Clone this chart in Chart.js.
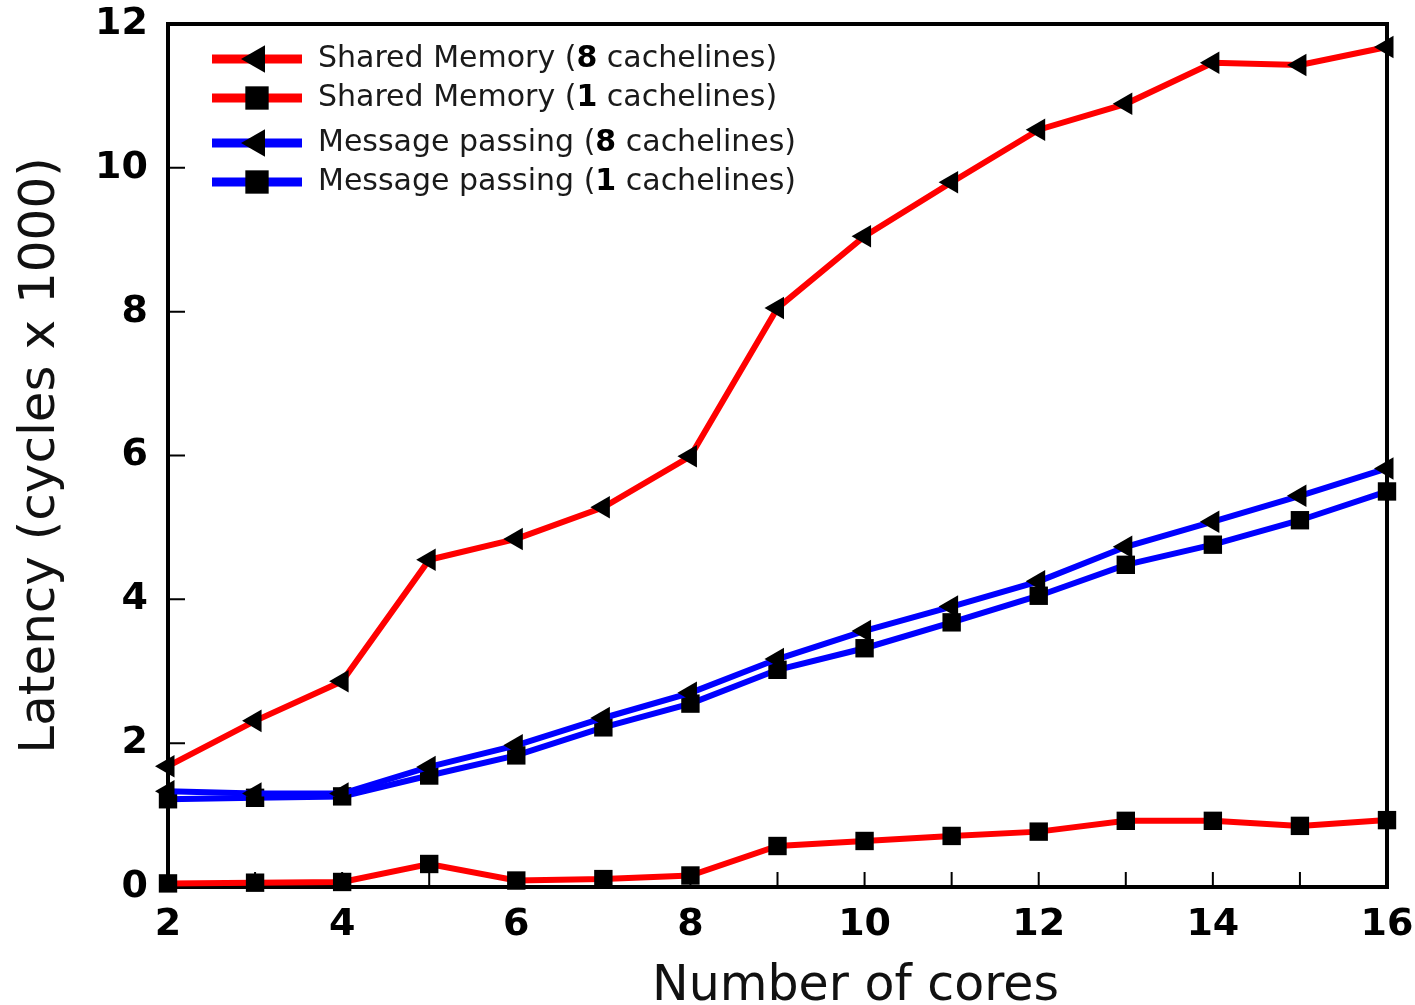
<!DOCTYPE html>
<html>
<head>
<meta charset="utf-8">
<script src="https://cdn.jsdelivr.net/npm/chart.js@4.4.0/dist/chart.umd.min.js"></script>
<style>
  body { margin: 0; background: #fff; }
  canvas { display: block; }
</style>
</head>
<body>
<canvas id="latencyChart" width="1415" height="1005"></canvas>
<script>
// number of cores on the x axis
const cores = [2, 3, 4, 5, 6, 7, 8, 9, 10, 11, 12, 13, 14, 15, 16];

// latency in cycles x 1000
const sharedMem8 = [1.68, 2.31, 2.86, 4.55, 4.84, 5.28, 5.99, 8.05, 9.05, 9.80, 10.53, 10.89, 11.46, 11.43, 11.68];
const sharedMem1 = [0.05, 0.06, 0.07, 0.32, 0.09, 0.11, 0.16, 0.57, 0.64, 0.71, 0.77, 0.92, 0.92, 0.85, 0.93];
const msgPass8   = [1.33, 1.30, 1.30, 1.67, 1.97, 2.35, 2.70, 3.17, 3.56, 3.90, 4.25, 4.73, 5.08, 5.44, 5.82];
const msgPass1   = [1.22, 1.24, 1.26, 1.55, 1.83, 2.22, 2.55, 3.02, 3.32, 3.68, 4.05, 4.48, 4.76, 5.10, 5.50];

const seriesNames = ['Shared Memory', 'Shared Memory', 'Message passing', 'Message passing'];
const cachelines = [8, 1, 8, 1];

const xTicks = [2, 4, 6, 8, 10, 12, 14, 16];
const yTicks = [0, 2, 4, 6, 8, 10, 12];

const FONT = "'DejaVu Sans', Verdana, sans-serif";

function toPoints(values) {
    return cores.map((c, i) => ({ x: c, y: values[i] }));
}

function makeDataset(i, values, color, style) {
    return {
        label: seriesNames[i] + ' (' + cachelines[i] + ' cachelines)',
        data: toPoints(values),
        borderColor: color,
        borderWidth: 6,
        backgroundColor: '#000',
        pointBackgroundColor: '#000',
        pointBorderWidth: 0,
        pointStyle: style,
        pointRotation: style === 'triangle' ? -90 : 0,
        pointRadius: 13,
        tension: 0,
        clip: false
    };
}

// inward ticks and the box round the plot
const framePlugin = {
    id: 'frame',
    beforeDatasetsDraw(chart) {
        const { ctx, chartArea: a, scales } = chart;
        ctx.save();
        ctx.strokeStyle = '#000';
        ctx.lineWidth = 2;
        ctx.beginPath();
        cores.forEach(c => {
            const px = scales.x.getPixelForValue(c);
            ctx.moveTo(px, a.bottom);
            ctx.lineTo(px, a.bottom - 15);
        });
        yTicks.forEach(v => {
            const py = scales.y.getPixelForValue(v);
            ctx.moveTo(a.left, py);
            ctx.lineTo(a.left + 17, py);
        });
        ctx.stroke();
        ctx.lineWidth = 4;
        ctx.strokeRect(a.left, a.top, a.right - a.left, a.bottom - a.top);
        ctx.restore();
    }
};

// legend with line + marker, bold cacheline count, and the x title
const legendPlugin = {
    id: 'lineLegend',
    afterDraw(chart) {
        const { ctx, chartArea: a } = chart;
        const rowOffsets = [35, 74, 119, 158];
        chart.data.datasets.forEach((ds, i) => {
            const yy = a.top + rowOffsets[i];
            const x0 = a.left + 44;
            ctx.save();
            ctx.strokeStyle = ds.borderColor;
            ctx.lineWidth = 9;
            ctx.beginPath();
            ctx.moveTo(x0, yy);
            ctx.lineTo(x0 + 90, yy);
            ctx.stroke();
            ctx.fillStyle = '#000';
            Chart.helpers.drawPoint(ctx, {
                pointStyle: ds.pointStyle,
                rotation: ds.pointRotation,
                radius: ds.pointStyle === 'triangle' ? 16 : 16.5,
                borderWidth: 0
            }, x0 + 45, yy);

            let tx = x0 + 106;
            ctx.textBaseline = 'middle';
            ctx.fillStyle = '#1a1a1a';
            ctx.font = '30px ' + FONT;
            const pre = seriesNames[i] + ' (';
            ctx.fillText(pre, tx, yy);
            tx += ctx.measureText(pre).width;
            ctx.font = 'bold 30px ' + FONT;
            ctx.fillStyle = '#000';
            const num = String(cachelines[i]);
            ctx.fillText(num, tx, yy);
            tx += ctx.measureText(num).width;
            ctx.font = '30px ' + FONT;
            ctx.fillStyle = '#1a1a1a';
            ctx.fillText(' cachelines)', tx, yy);
            ctx.restore();
        });

        ctx.save();
        ctx.font = '49px ' + FONT;
        ctx.fillStyle = '#111';
        ctx.textAlign = 'center';
        ctx.textBaseline = 'alphabetic';
        ctx.fillText('Number of cores', (a.left + a.right) / 2 + 78, chart.height - 5);
        ctx.restore();
    }
};

const ctx = document.getElementById('latencyChart').getContext('2d');
const latencyChart = new Chart(ctx, {
    type: 'line',
    data: {
        datasets: [
            makeDataset(0, sharedMem8, '#ff0000', 'triangle'),
            makeDataset(1, sharedMem1, '#ff0000', 'rect'),
            makeDataset(2, msgPass8, '#0000ff', 'triangle'),
            makeDataset(3, msgPass1, '#0000ff', 'rect')
        ]
    },
    options: {
        responsive: false,
        animation: false,
        layout: { padding: { top: 24, right: 28, left: 0, bottom: 0 } },
        plugins: {
            legend: { display: false },
            tooltip: { enabled: false }
        },
        scales: {
            x: {
                type: 'linear',
                min: 2,
                max: 16,
                grid: { display: false, drawTicks: false },
                border: { display: false },
                afterBuildTicks: scale => { scale.ticks = xTicks.map(v => ({ value: v })); },
                afterFit: scale => {
                    scale.height = 118;
                    scale.paddingLeft = 0;
                    scale.paddingRight = 0;
                },
                ticks: {
                    padding: 15,
                    maxRotation: 0,
                    color: '#000',
                    font: { family: FONT, size: 38, weight: 'bold' }
                }
            },
            y: {
                type: 'linear',
                min: 0,
                max: 12,
                grid: { display: false, drawTicks: false },
                border: { display: false },
                afterBuildTicks: scale => { scale.ticks = yTicks.map(v => ({ value: v })); },
                afterFit: scale => {
                    scale.width = 168;
                    scale.paddingTop = 0;
                    scale.paddingBottom = 0;
                },
                ticks: {
                    padding: 20,
                    color: '#000',
                    font: { family: FONT, size: 38, weight: 'bold' }
                },
                title: {
                    display: true,
                    text: 'Latency (cycles x 1000)',
                    color: '#111',
                    padding: { top: 11, bottom: 0 },
                    font: { family: FONT, size: 50 }
                }
            }
        }
    },
    plugins: [framePlugin, legendPlugin]
});
</script>
</body>
</html>
